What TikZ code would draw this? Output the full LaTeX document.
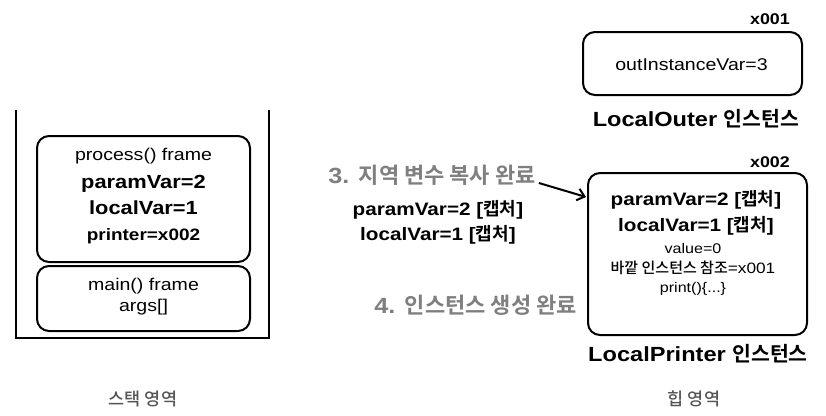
\documentclass[tikz,border=0pt]{standalone}
\usepackage{fontspec}
\setmainfont{Liberation Sans}[FakeStretch=1.15]
\newfontfamily\krfont{Noto Sans CJK KR}[BoldFont={Noto Sans CJK KR Bold}]
\newfontfamily\krmed{Noto Sans CJK KR Medium}
\usetikzlibrary{arrows.meta}
\newcommand\fsz[1]{\fontsize{#1}{#1}\selectfont}
\definecolor{stepgray}{HTML}{7F7F7F}
\definecolor{areagray}{HTML}{555555}
\tikzset{
  box/.style={draw, line width=2pt, rounded corners=12pt, inner sep=0pt},
  txt/.style={inner sep=0pt, anchor=base},
  steptxt/.style={txt, text=stepgray, font=\fsz{22}\bfseries},
  areatxt/.style={txt, text=areagray, font=\fsz{17.5}\krmed}
}

\begin{document}
\begin{tikzpicture}[x=1pt, y=-1pt]
  \useasboundingbox (0,0) rectangle (826,415);

  % stack
  \draw [line width=2.5pt] (16,110) -- (16,338) -- (269,338) -- (269,110);
  \node[box, minimum width=213pt, minimum height=126pt] (proc) at (143.5,199) {};
  \node[box, minimum width=213pt, minimum height=65pt] (main) at (143.5,298.5) {};
  \node[txt, font=\fsz{17}] (procname) at (143.5,160) {process() frame};
  \node[txt, font=\fsz{19}\bfseries] (procparam) at (143.5,188) {paramVar=2};
  \node[txt, font=\fsz{19}\bfseries] (proclocal) at (143.5,214.5) {localVar=1};
  \node[txt, font=\fsz{16.5}\bfseries] (procprinter) at (143.5,240) {printer=x002};
  \node[txt, font=\fsz{17}] (mainname) at (143.5,290) {main() frame};
  \node[txt, font=\fsz{17}] (mainargs) at (143.5,311) {args[]};
  \node[areatxt] (stacklbl) at (143,405) {스택 영역};

  % copy step
  \node[steptxt] (step3) at (432,183) {3. {\krfont 지역 변수 복사 완료}};
  \node[txt, font=\fsz{18}\bfseries] (capparam) at (438,215) {paramVar=2 [{\krfont 캡처}]};
  \node[txt, font=\fsz{18}\bfseries] (caplocal) at (438,240) {localVar=1 [{\krfont 캡처}]};
  \node[steptxt, anchor=base east] (step4) at (577,313) {4. {\krfont 인스턴스 생성 완료}};

  % heap
  \node[txt, anchor=base east, font=\fsz{15.5}\bfseries] (addr1) at (790,24) {x001};
  \node[box, minimum width=219pt, minimum height=63pt] (outer) at (692.5,63.5) {};
  \node[txt, font=\fsz{17}] (outvar) at (691.5,70.5) {outInstanceVar=3};
  \node[txt, font=\fsz{20.5}\bfseries] (outerlbl) at (696,126) {LocalOuter {\krfont 인스턴스}};

  \node[txt, anchor=base east, font=\fsz{15.5}\bfseries] (addr2) at (790,167) {x002};
  \node[box, minimum width=219pt, minimum height=162pt] (lp) at (697.5,254) {};
  \node[txt, font=\fsz{18}\bfseries] (lpparam) at (696,205) {paramVar=2 [{\krfont 캡처}]};
  \node[txt, font=\fsz{18}\bfseries] (lplocal) at (696,231) {localVar=1 [{\krfont 캡처}]};
  \node[txt, font=\fsz{14}] (lpvalue) at (693,253) {value=0};
  \node[txt, font=\fsz{15}] (lpouter) at (693,273) {{\krmed 바깥 인스턴스 참조}=x001};
  \node[txt, font=\fsz{14}] (lpprint) at (693,292) {print()\{...\}};
  \node[txt, font=\fsz{20.5}\bfseries] (lplbl) at (698,361) {LocalPrinter {\krfont 인스턴스}};
  \node[areatxt] (heaplbl) at (694,405) {힙 영역};

  \coordinate (lpin) at (586,197);
  \draw [-{Straight Barb[length=7pt,width=12pt]}, line width=2pt] ([xshift=3pt]step3.base east) -- (lpin);
\end{tikzpicture}
\end{document}
